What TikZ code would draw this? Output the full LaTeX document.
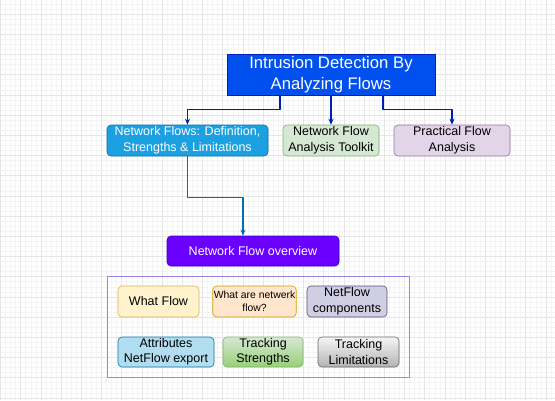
\documentclass[tikz,border=0pt]{standalone}
\usepackage{fontspec}
\setmainfont{Liberation Sans}
\usetikzlibrary{arrows.meta}
\definecolor{gridmaj}{HTML}{E6E6E6}
\definecolor{gridmin}{HTML}{F4F4F4}
\definecolor{topblue}{HTML}{0050EF}
\definecolor{topline}{HTML}{001DBC}
\definecolor{skyblue}{HTML}{1BA1E2}
\definecolor{skyline}{HTML}{006EAF}
\definecolor{paleline}{HTML}{10739E}
\definecolor{mintfill}{HTML}{D5E8D4}
\definecolor{mintline}{HTML}{82B366}
\definecolor{mintdark}{HTML}{97D077}
\definecolor{lilacfill}{HTML}{E1D5E7}
\definecolor{lilacline}{HTML}{9673A6}
\definecolor{violet}{HTML}{6A00FF}
\definecolor{violetline}{HTML}{3700CC}
\definecolor{frameline}{HTML}{9A86E8}
\definecolor{creamfill}{HTML}{FFF2CC}
\definecolor{creamline}{HTML}{D6B656}
\definecolor{peachfill}{HTML}{FFE6CC}
\definecolor{peachline}{HTML}{D79B00}
\definecolor{greyblue}{HTML}{D0CEE2}
\definecolor{greyblueline}{HTML}{56517E}
\definecolor{iceblue}{HTML}{B1DDF0}
\definecolor{silver}{HTML}{F5F5F5}
\definecolor{silverdark}{HTML}{B3B3B3}
\definecolor{silverline}{HTML}{666666}
\tikzset{
    lab/.style={
        font=\fontsize{12.5}{15.5}\selectfont
    },
    card/.style={
        lab, draw, rounded corners=4pt, align=center, inner sep=1pt,
        minimum height=31, line width=0.6pt
    },
    link/.style={
        -{Stealth[length=6pt,width=5pt]}, line width=1.2pt, color=topline
    }
}

\begin{document}
\begin{tikzpicture}[x=1pt,y=-1pt, line join=round]

\useasboundingbox (0,0) rectangle (555,400);
\fill[white] (0,0) rectangle (555,400);

% grid
\foreach \i in {0,...,110} {
  \draw[gridmin, line width=0.4pt] ({0.4+5.05*\i},0) -- ++(0,400);
  \draw[gridmin, line width=0.4pt] (0,{-1.15+5.05*\i}) -- ++(555,0);
}
\foreach \i in {0,...,27} {
  \draw[gridmaj, line width=0.6pt] ({0.4+20.2*\i},0) -- ++(0,400);
  \draw[gridmaj, line width=0.6pt] (0,{-6.2+20.2*\i}) -- ++(555,0);
}

% title
\node[draw=topline, fill=topblue, text=white, align=center,
      font=\fontsize{16.7}{20.5}\selectfont,
      minimum width=208, minimum height=41, inner sep=1pt]
  (title) at (331,74.5) {Intrusion Detection By\\Analyzing Flows};

% second row
\node[card, fill=skyblue, draw=skyline, text=white, minimum width=161]
  (flows) at (187.5,140.5) {Network Flows: Definition,\\Strengths \& Limitations};
\node[card, fill=mintfill, draw=mintline, minimum width=96]
  (toolkit) at (331,140.5) {Network Flow\\Analysis Toolkit};
\node[card, fill=lilacfill, draw=lilacline, minimum width=116]
  (practical) at (452,140.5) {Practical Flow\\Analysis};

\draw[link] ([xshift=-51pt]title.south) -- ++(0,14) -| (flows.north);
\draw[link] (title.south) -- (toolkit.north);
\draw[link] ([xshift=52pt]title.south) -- ++(0,14) -| (practical.north);

% overview
\node[card, fill=violet, draw=violetline, text=white, minimum width=172,
      minimum height=30]
  (overview) at (253,251) {Network Flow overview};
\draw[link, color=skyline]
  (flows.south) -- ++(0,41) -| ([xshift=-10pt]overview.north);

% frame round the topics
\coordinate (frameA) at (107,276);
\coordinate (frameB) at (409,377);
\draw[frameline, line width=0.9pt] (frameA) rectangle (frameB);

\node[card, fill=creamfill, draw=creamline, minimum width=81]
  (whatflow) at (158.5,301.5) {What Flow};
\node[card, fill=peachfill, draw=peachline, minimum width=81,
      font=\fontsize{10.4}{13}\selectfont]
  (whatare) at (254.5,301.5) {What are netwerk\\flow?};
\node[card, fill=greyblue, draw=greyblueline, minimum width=80]
  (components) at (347,301.5) {NetFlow\\components};

\node[card, fill=iceblue, draw=paleline, minimum width=96, minimum height=30]
  (attributes) at (166,352) {Attributes\\NetFlow export};
\node[card, top color=mintfill, bottom color=mintdark, draw=mintline,
      minimum width=80, minimum height=30]
  (strengths) at (263,352) {Tracking\\Strengths};
\node[card, top color=silver, bottom color=silverdark, draw=silverline,
      minimum width=81, minimum height=30]
  (limitations) at (358.5,352) {Tracking\\Limitations};

\end{tikzpicture}
\end{document}
